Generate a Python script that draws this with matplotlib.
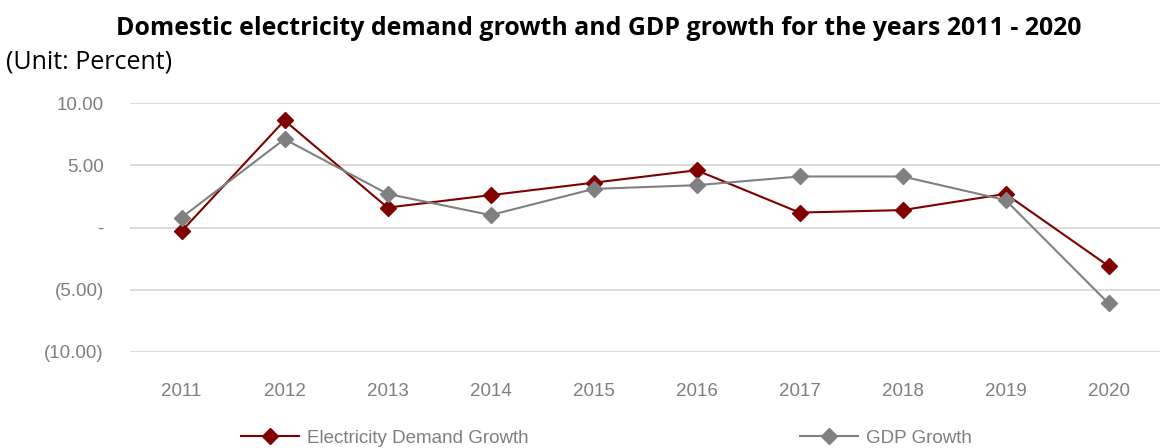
import matplotlib.pyplot as plt
from matplotlib.ticker import FuncFormatter

years = ["2011", "2012", "2013", "2014", "2015", "2016", "2017", "2018", "2019", "2020"]
electricity = [-0.3, 8.6, 1.6, 2.6, 3.6, 4.6, 1.2, 1.4, 2.7, -3.1]
gdp = [0.8, 7.1, 2.7, 1.0, 3.1, 3.4, 4.1, 4.1, 2.2, -6.1]

red = "#800000"
grey = "#808080"

fig = plt.figure(figsize=(11.64, 4.48), dpi=100)
ax = fig.add_axes([0.1117, 0.2143, 0.885, 0.5557])

x = range(len(years))
ax.plot(x, electricity, color=red, lw=1.5, marker="D", markersize=8.5,
        label="Electricity Demand Growth")
ax.plot(x, gdp, color=grey, lw=1.5, marker="D", markersize=8.5,
        label="GDP Growth")


def fmt(v, pos):
    if abs(v) < 1e-9:
        return "-"
    if v < 0:
        return "({:.2f})".format(-v)
    return "{:.2f}".format(v)


ax.set_ylim(-10, 10)
ax.set_yticks([-10, -5, 0, 5, 10])
ax.yaxis.set_major_formatter(FuncFormatter(fmt))
ax.set_xlim(-0.5, len(years) - 0.5)
ax.set_xticks(list(x))
ax.set_xticklabels(years)

ax.grid(axis="y", color="#d9d9d9", lw=1.3)
ax.set_axisbelow(True)
for s in ax.spines.values():
    s.set_visible(False)
ax.tick_params(length=0, labelcolor="#7f7f7f", labelsize=13.5)
ax.tick_params(axis="x", pad=22)
ax.tick_params(axis="y", pad=19)
for lab in ax.get_xticklabels() + ax.get_yticklabels():
    lab.set_family("Liberation Sans")

fig.text(0.514, 0.937, "Domestic electricity demand growth and GDP growth for the years 2011 - 2020",
         ha="center", va="center", fontsize=17.9, fontweight="bold", family="Open Sans")
fig.text(0.005, 0.862, "(Unit: Percent)", ha="left", va="center", fontsize=18, family="Open Sans")

leg = fig.legend(loc="center", bbox_to_anchor=(0.521, 0.022), ncol=2, frameon=False,
                 handlelength=3.1, handletextpad=0.4, columnspacing=14.5,
                 prop={"family": "Liberation Sans", "size": 13.5})
for t in leg.get_texts():
    t.set_color("#7f7f7f")

fig.savefig("out.png", dpi=100)
